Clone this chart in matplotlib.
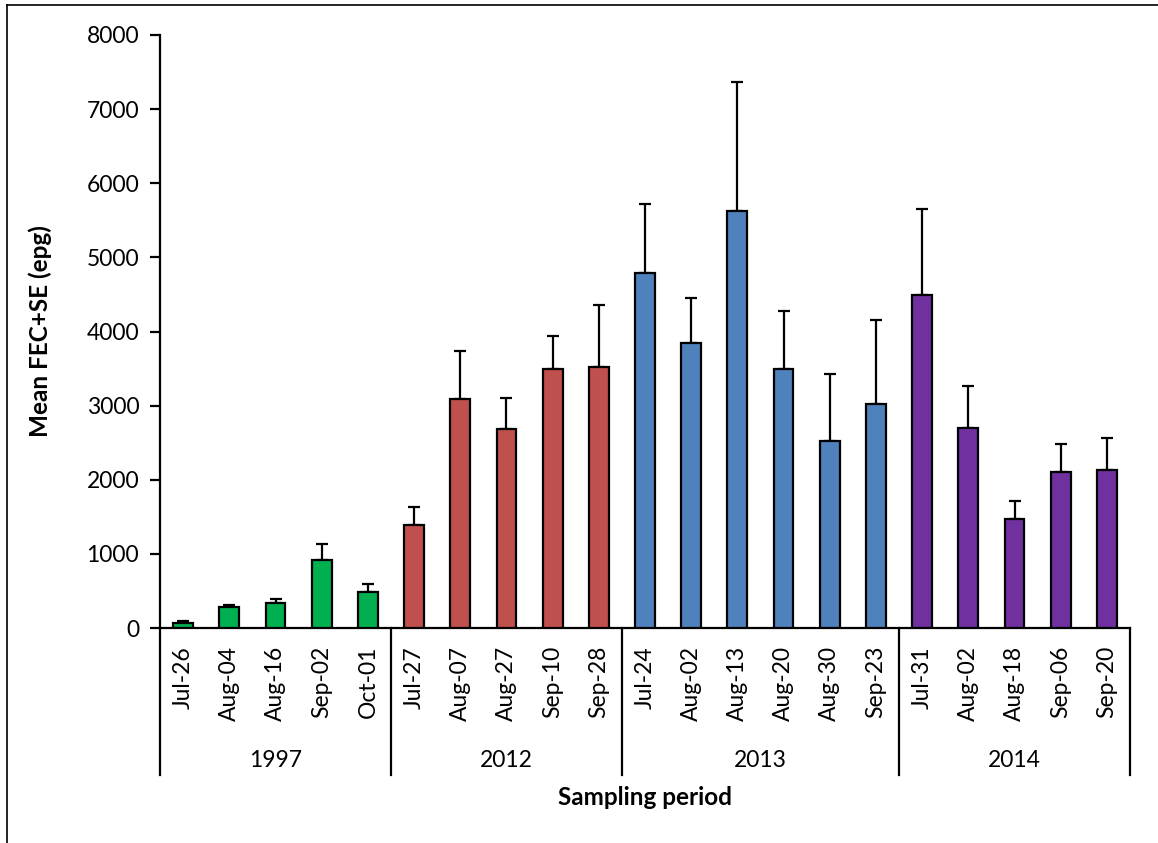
import numpy as np
import matplotlib
matplotlib.use('Agg')
from matplotlib import pyplot as plt
from matplotlib.lines import Line2D

plt.rcParams['font.family'] = ['Lato', 'DejaVu Sans']

# Data
years = ['1997', '2012', '2013', '2014']
dates_1997 = ['Jul-26', 'Aug-04', 'Aug-16', 'Sep-02', 'Oct-01']
dates_2012 = ['Jul-27', 'Aug-07', 'Aug-27', 'Sep-10', 'Sep-28']
dates_2013 = ['Jul-24', 'Aug-02', 'Aug-13', 'Aug-20', 'Aug-30', 'Sep-23']
dates_2014 = ['Jul-31', 'Aug-02', 'Aug-18', 'Sep-06', 'Sep-20']

mean_1997 = [65, 287, 333, 913, 486]
mean_2012 = [1390, 3094, 2685, 3490, 3517]
mean_2013 = [4789, 3840, 5630, 3490, 2518, 3017]
mean_2014 = [4488, 2698, 1466, 2109, 2131]

se_1997 = [25, 23, 58, 216, 108]
se_2012 = [242, 639, 413, 453, 836]
se_2013 = [926, 608, 1740, 786, 913, 1138]
se_2014 = [1164, 571, 243, 378, 428]

colors = ['#00B050', '#C0504D', '#4F81BD', '#7030A0']

groups = [(dates_1997, mean_1997, se_1997),
          (dates_2012, mean_2012, se_2012),
          (dates_2013, mean_2013, se_2013),
          (dates_2014, mean_2014, se_2014)]

fig = plt.figure(figsize=(11.58, 8.43), dpi=100)
ax = fig.add_axes([0.1382, 0.2550, 0.8376, 0.7035])

labels = []
x0 = 0
bounds = [-0.5]
for (dates, means, ses), c in zip(groups, colors):
    x = np.arange(x0, x0 + len(dates))
    ax.errorbar(x, means, yerr=[np.zeros(len(ses)), ses], fmt='none',
                ecolor='black', elinewidth=1.6, capsize=4.5, capthick=1.6, zorder=2)
    ax.bar(x, means, width=0.43, color=c, edgecolor='black', linewidth=1.6, zorder=3)
    labels += dates
    x0 += len(dates)
    bounds.append(x0 - 0.5)

ax.set_xlim(-0.5, x0 - 0.5)
ax.set_ylim(0, 8000)
ax.set_yticks(np.arange(0, 8001, 1000))
ax.set_xticks(np.arange(x0))
ax.set_xticklabels(labels, rotation=90, fontsize=16.5)
ax.tick_params(axis='x', length=0, pad=13)
ax.tick_params(axis='y', direction='out', length=7, width=1.6, labelsize=16.5, pad=8)

for s in ['top', 'right']:
    ax.spines[s].set_visible(False)
for s in ['left', 'bottom']:
    ax.spines[s].set_linewidth(1.6)

# group separators on the category axis
trans = ax.get_xaxis_transform()
for b in bounds:
    ax.plot([b, b], [0, -0.248], color='black', lw=1.6, transform=trans, clip_on=False)

for i, y in enumerate(years):
    mid = (bounds[i] + bounds[i + 1]) / 2
    ax.text(mid, -0.2226, y, transform=trans, ha='center', va='center', fontsize=16.5)

ax.text(0.5, -0.285, 'Sampling period', transform=ax.transAxes, ha='center',
        va='center', fontsize=17.5, fontweight='bold')
ax.text(-0.1237, 0.5, 'Mean FEC+SE (epg)', transform=ax.transAxes, ha='center',
        va='center', rotation=90, fontsize=17.5, fontweight='bold')

# outer border (top and left)
fig.add_artist(Line2D([0.006, 1.0], [0.994, 0.994], color='black', lw=1.2))
fig.add_artist(Line2D([0.006, 0.006], [0.0, 0.994], color='black', lw=1.2))

fig.savefig('out.png', dpi=100)
